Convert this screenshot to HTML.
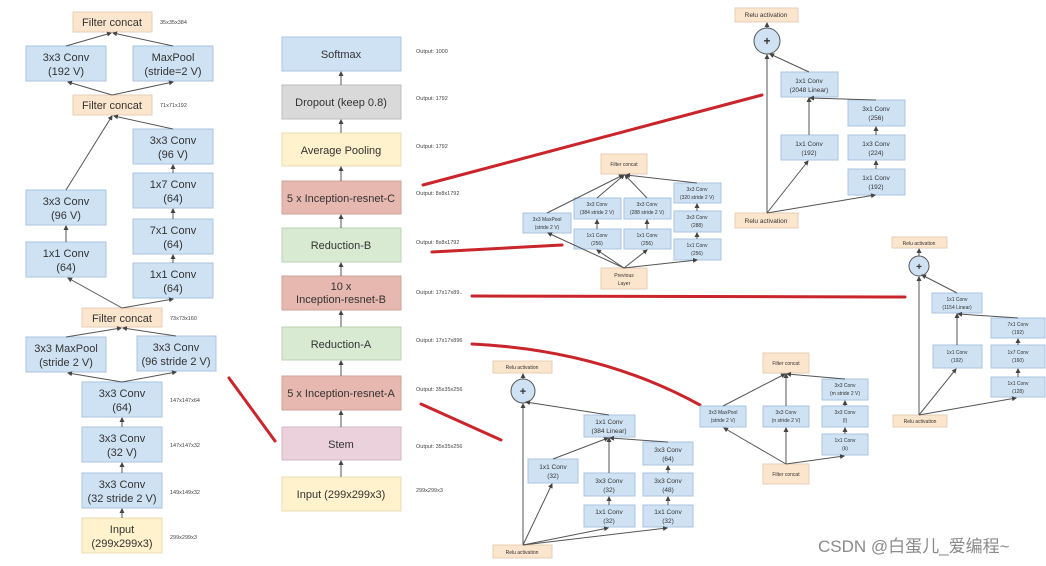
<!DOCTYPE html>
<html><head><meta charset="utf-8"><style>
html,body{margin:0;padding:0;background:#fff;}
svg{display:block;font-family:"Liberation Sans",Arial,sans-serif;}
.b{fill:#cfe2f3;stroke:#a9c4e0;stroke-width:1}
.o{fill:#fce5cd;stroke:#e6cfb5;stroke-width:1}
.y{fill:#fff2cc;stroke:#e8dcb5;stroke-width:1}
.g{fill:#d9d9d9;stroke:#bdbdbd;stroke-width:1}
.r{fill:#e6b8af;stroke:#cfa39a;stroke-width:1}
.gr{fill:#d9ead3;stroke:#bcd3b4;stroke-width:1}
.p{fill:#ead1dc;stroke:#d2b8c4;stroke-width:1}
text{fill:#333;text-anchor:middle}
.t{font-size:11px}
.s{font-size:6.5px}
.xs{font-size:5px}
.lb{font-size:5.5px;text-anchor:start;fill:#444}
.ln{stroke:#555;stroke-width:1;fill:none;marker-end:url(#a)}
.red{stroke:#c9252b;stroke-width:3;fill:none;stroke-linecap:round}
</style></head><body>
<svg width="1046" height="566" viewBox="0 0 1046 566" xmlns="http://www.w3.org/2000/svg">
<defs><marker id="a" markerWidth="5" markerHeight="5" refX="4" refY="2.5" orient="auto"><path d="M0,0 L5,2.5 L0,5z" fill="#444"/></marker></defs>

<!-- LEFT STEM -->
<rect class="o" x="73" y="12" width="79" height="20"/><text class="t" x="112" y="26">Filter concat</text>
<text class="lb" x="160" y="24">35x35x384</text>
<rect class="b" x="26" y="46" width="80" height="35"/><text class="t" x="66" y="61">3x3 Conv</text><text class="t" x="66" y="75">(192 V)</text>
<rect class="b" x="133" y="46" width="80" height="35"/><text class="t" x="173" y="61">MaxPool</text><text class="t" x="173" y="75">(stride=2 V)</text>
<rect class="o" x="73" y="95" width="79" height="20"/><text class="t" x="112" y="109">Filter concat</text>
<text class="lb" x="160" y="107">71x71x192</text>
<rect class="b" x="133" y="129" width="80" height="35"/><text class="t" x="173" y="144">3x3 Conv</text><text class="t" x="173" y="158">(96 V)</text>
<rect class="b" x="133" y="173" width="80" height="35"/><text class="t" x="173" y="188">1x7 Conv</text><text class="t" x="173" y="202">(64)</text>
<rect class="b" x="133" y="219" width="80" height="35"/><text class="t" x="173" y="234">7x1 Conv</text><text class="t" x="173" y="248">(64)</text>
<rect class="b" x="133" y="263" width="80" height="35"/><text class="t" x="173" y="278">1x1 Conv</text><text class="t" x="173" y="292">(64)</text>
<rect class="b" x="26" y="190" width="80" height="35"/><text class="t" x="66" y="205">3x3 Conv</text><text class="t" x="66" y="219">(96 V)</text>
<rect class="b" x="26" y="242" width="80" height="35"/><text class="t" x="66" y="257">1x1 Conv</text><text class="t" x="66" y="271">(64)</text>
<rect class="o" x="82" y="308" width="80" height="19"/><text class="t" x="122" y="322">Filter concat</text>
<text class="lb" x="170" y="320">73x73x160</text>
<rect class="b" x="26" y="337" width="80" height="35"/><text class="t" x="66" y="352">3x3 MaxPool</text><text class="t" x="66" y="366">(stride 2 V)</text>
<rect class="b" x="137" y="336" width="79" height="35"/><text class="t" x="176" y="351">3x3 Conv</text><text class="t" x="176" y="365">(96 stride 2 V)</text>
<rect class="b" x="82" y="382" width="80" height="35"/><text class="t" x="122" y="397">3x3 Conv</text><text class="t" x="122" y="411">(64)</text>
<text class="lb" x="170" y="402">147x147x64</text>
<rect class="b" x="82" y="427" width="80" height="35"/><text class="t" x="122" y="442">3x3 Conv</text><text class="t" x="122" y="456">(32 V)</text>
<text class="lb" x="170" y="447">147x147x32</text>
<rect class="b" x="82" y="473" width="80" height="35"/><text class="t" x="122" y="488">3x3 Conv</text><text class="t" x="122" y="502">(32 stride 2 V)</text>
<text class="lb" x="170" y="494">149x149x32</text>
<rect class="y" x="82" y="518" width="80" height="35"/><text class="t" x="122" y="533">Input</text><text class="t" x="122" y="547">(299x299x3)</text>
<text class="lb" x="170" y="539">299x299x3</text>
<!-- left arrows -->
<path class="ln" d="M122,518 V509"/><path class="ln" d="M122,473 V463"/><path class="ln" d="M122,427 V418"/>
<path class="ln" d="M122,382 L68,373"/><path class="ln" d="M122,382 L176,372"/>
<path class="ln" d="M66,337 L121,328"/><path class="ln" d="M176,336 L123,328"/>
<path class="ln" d="M122,308 L68,278"/><path class="ln" d="M122,308 L173,299"/>
<path class="ln" d="M66,242 V226"/><path class="ln" d="M173,263 V255"/><path class="ln" d="M173,219 V209"/><path class="ln" d="M173,173 V165"/>
<path class="ln" d="M66,190 L112,116"/><path class="ln" d="M173,129 L114,116"/>
<path class="ln" d="M112,95 L68,82"/><path class="ln" d="M112,95 L173,82"/>
<path class="ln" d="M66,46 L111,33"/><path class="ln" d="M173,46 L113,33"/>

<!-- MIDDLE -->
<rect class="b" x="282" y="37" width="119" height="34"/><text class="t" x="341" y="58">Softmax</text>
<rect class="g" x="282" y="85" width="119" height="34"/><text class="t" x="341" y="106">Dropout (keep 0.8)</text>
<rect class="y" x="282" y="133" width="119" height="33"/><text class="t" x="341" y="154">Average Pooling</text>
<rect class="r" x="282" y="181" width="119" height="33"/><text class="t" x="341" y="202">5 x Inception-resnet-C</text>
<rect class="gr" x="282" y="228" width="119" height="34"/><text class="t" x="341" y="249">Reduction-B</text>
<rect class="r" x="282" y="276" width="119" height="34"/><text class="t" x="341" y="290">10 x</text><text class="t" x="341" y="303">Inception-resnet-B</text>
<rect class="gr" x="282" y="327" width="119" height="33"/><text class="t" x="341" y="348">Reduction-A</text>
<rect class="r" x="282" y="376" width="119" height="34"/><text class="t" x="341" y="397">5 x Inception-resnet-A</text>
<rect class="p" x="282" y="427" width="119" height="33"/><text class="t" x="341" y="448">Stem</text>
<rect class="y" x="282" y="477" width="119" height="34"/><text class="t" x="341" y="498">Input (299x299x3)</text>
<path class="ln" d="M341,477 V461"/><path class="ln" d="M341,427 V411"/><path class="ln" d="M341,376 V361"/><path class="ln" d="M341,327 V311"/><path class="ln" d="M341,276 V263"/><path class="ln" d="M341,228 V215"/><path class="ln" d="M341,181 V167"/><path class="ln" d="M341,133 V120"/><path class="ln" d="M341,85 V72"/>
<text class="lb" x="416" y="53">Output: 1000</text>
<text class="lb" x="416" y="100">Output: 1792</text>
<text class="lb" x="416" y="148">Output: 1792</text>
<text class="lb" x="416" y="195">Output: 8x8x1792</text>
<text class="lb" x="416" y="244">Output: 8x8x1792</text>
<text class="lb" x="416" y="294">Output: 17x17x89..</text>
<text class="lb" x="416" y="342">Output: 17x17x896</text>
<text class="lb" x="416" y="391">Output: 35x35x256</text>
<text class="lb" x="416" y="448">Output: 35x35x256</text>
<text class="lb" x="416" y="492">299x299x3</text>

<!-- RED LINES -->
<path class="red" d="M229,378 L275,441"/>
<path class="red" d="M423,185 L762,95"/>
<path class="red" d="M432,252 L562,245"/>
<path class="red" d="M472,296 L905,297"/>
<path class="red" d="M472,344 Q600,350 700,405"/>
<path class="red" d="M421,404 L501,440"/>

<!-- REDUCTION-B -->
<rect class="o" x="601" y="154" width="46" height="20"/><text class="xs" x="624" y="166">Filter concat</text>
<rect class="b" x="523" y="213" width="48" height="20"/><text class="xs" x="547" y="221">3x3 MaxPool</text><text class="xs" x="547" y="229">(stride 2 V)</text>
<rect class="b" x="574" y="198" width="47" height="21"/><text class="xs" x="597" y="206">3x3 Conv</text><text class="xs" x="597" y="214">(384 stride 2 V)</text>
<rect class="b" x="574" y="229" width="47" height="20"/><text class="xs" x="597" y="237">1x1 Conv</text><text class="xs" x="597" y="245">(256)</text>
<rect class="b" x="624" y="198" width="47" height="21"/><text class="xs" x="647" y="206">3x3 Conv</text><text class="xs" x="647" y="214">(288 stride 2 V)</text>
<rect class="b" x="624" y="229" width="47" height="20"/><text class="xs" x="647" y="237">1x1 Conv</text><text class="xs" x="647" y="245">(256)</text>
<rect class="b" x="674" y="183" width="47" height="20"/><text class="xs" x="697" y="191">3x3 Conv</text><text class="xs" x="697" y="199">(320 stride 2 V)</text>
<rect class="b" x="674" y="211" width="47" height="21"/><text class="xs" x="697" y="219">3x3 Conv</text><text class="xs" x="697" y="227">(288)</text>
<rect class="b" x="674" y="239" width="47" height="21"/><text class="xs" x="697" y="247">1x1 Conv</text><text class="xs" x="697" y="255">(256)</text>
<rect class="o" x="601" y="268" width="46" height="21"/><text class="xs" x="624" y="277">Previous</text><text class="xs" x="624" y="285">Layer</text>
<path class="ln" d="M624,268 L548,233"/><path class="ln" d="M624,268 L597,250"/><path class="ln" d="M624,268 L647,250"/><path class="ln" d="M624,268 L697,260"/>
<path class="ln" d="M597,229 V220"/><path class="ln" d="M647,229 V220"/><path class="ln" d="M697,239 V233"/><path class="ln" d="M697,211 V204"/>
<path class="ln" d="M547,213 L623,175"/><path class="ln" d="M597,198 L624,175"/><path class="ln" d="M647,198 L625,175"/><path class="ln" d="M697,183 L626,175"/>

<!-- INCEPTION-C -->
<rect class="o" x="735" y="8" width="63" height="14"/><text class="s" x="766" y="17">Relu activation</text>
<circle cx="767" cy="41" r="13" fill="#cfe2f3" stroke="#555"/><text x="767" y="45" style="font-size:12px;font-weight:bold">+</text>
<path class="ln" d="M767,28 V23"/>
<rect class="b" x="781" y="72" width="57" height="25"/><text class="s" x="809" y="83">1x1 Conv</text><text class="s" x="809" y="92">(2048 Linear)</text>
<rect class="b" x="848" y="100" width="57" height="26"/><text class="s" x="876" y="111">3x1 Conv</text><text class="s" x="876" y="120">(256)</text>
<rect class="b" x="781" y="135" width="57" height="25"/><text class="s" x="809" y="146">1x1 Conv</text><text class="s" x="809" y="155">(192)</text>
<rect class="b" x="848" y="135" width="57" height="25"/><text class="s" x="876" y="146">1x3 Conv</text><text class="s" x="876" y="155">(224)</text>
<rect class="b" x="848" y="169" width="57" height="26"/><text class="s" x="876" y="180">1x1 Conv</text><text class="s" x="876" y="189">(192)</text>
<rect class="o" x="735" y="213" width="63" height="15"/><text class="s" x="766" y="223">Relu activation</text>
<path class="ln" d="M767,213 V55"/><path class="ln" d="M767,213 L808,161"/><path class="ln" d="M767,213 L875,195"/>
<path class="ln" d="M876,169 V161"/><path class="ln" d="M876,135 V127"/><path class="ln" d="M809,135 V98"/><path class="ln" d="M876,100 L810,98"/><path class="ln" d="M809,72 L770,54"/>

<!-- INCEPTION-B -->
<rect class="o" x="892" y="237" width="55" height="11"/><text class="xs" x="919" y="245">Relu activation</text>
<circle cx="919" cy="266" r="10" fill="#cfe2f3" stroke="#555"/><text x="919" y="270" style="font-size:10px;font-weight:bold">+</text>
<path class="ln" d="M919,256 V249"/>
<rect class="b" x="932" y="293" width="50" height="20"/><text class="xs" x="957" y="301">1x1 Conv</text><text class="xs" x="957" y="309">(1154 Linear)</text>
<rect class="b" x="991" y="318" width="54" height="20"/><text class="xs" x="1018" y="326">7x1 Conv</text><text class="xs" x="1018" y="334">(192)</text>
<rect class="b" x="933" y="345" width="49" height="23"/><text class="xs" x="957" y="354">1x1 Conv</text><text class="xs" x="957" y="362">(192)</text>
<rect class="b" x="991" y="345" width="54" height="23"/><text class="xs" x="1018" y="354">1x7 Conv</text><text class="xs" x="1018" y="362">(160)</text>
<rect class="b" x="991" y="377" width="54" height="20"/><text class="xs" x="1018" y="385">1x1 Conv</text><text class="xs" x="1018" y="393">(128)</text>
<rect class="o" x="893" y="415" width="54" height="12"/><text class="xs" x="920" y="423">Relu activation</text>
<path class="ln" d="M919,415 V277"/><path class="ln" d="M919,415 L956,369"/><path class="ln" d="M919,415 L1016,398"/>
<path class="ln" d="M1018,377 V369"/><path class="ln" d="M1018,345 V339"/><path class="ln" d="M957,345 V314"/><path class="ln" d="M1018,318 L958,314"/><path class="ln" d="M957,293 L922,275"/>

<!-- INCEPTION-A -->
<rect class="o" x="493" y="361" width="59" height="12"/><text class="xs" x="522" y="369">Relu activation</text>
<circle cx="523" cy="391" r="12" fill="#cfe2f3" stroke="#555"/><text x="523" y="395" style="font-size:11px;font-weight:bold">+</text>
<path class="ln" d="M523,379 V374"/>
<rect class="b" x="584" y="415" width="51" height="22"/><text class="s" x="609" y="424">1x1 Conv</text><text class="s" x="609" y="433">(384 Linear)</text>
<rect class="b" x="528" y="459" width="50" height="24"/><text class="s" x="553" y="469">1x1 Conv</text><text class="s" x="553" y="478">(32)</text>
<rect class="b" x="584" y="473" width="51" height="23"/><text class="s" x="609" y="483">3x3 Conv</text><text class="s" x="609" y="492">(32)</text>
<rect class="b" x="584" y="505" width="51" height="22"/><text class="s" x="609" y="514">1x1 Conv</text><text class="s" x="609" y="523">(32)</text>
<rect class="b" x="643" y="442" width="50" height="23"/><text class="s" x="668" y="452">3x3 Conv</text><text class="s" x="668" y="461">(64)</text>
<rect class="b" x="643" y="473" width="50" height="23"/><text class="s" x="668" y="483">3x3 Conv</text><text class="s" x="668" y="492">(48)</text>
<rect class="b" x="643" y="505" width="50" height="22"/><text class="s" x="668" y="514">1x1 Conv</text><text class="s" x="668" y="523">(32)</text>
<rect class="o" x="493" y="545" width="59" height="13"/><text class="xs" x="522" y="554">Relu activation</text>
<path class="ln" d="M523,545 V404"/><path class="ln" d="M523,545 L552,484"/><path class="ln" d="M523,545 L608,528"/><path class="ln" d="M523,545 L667,528"/>
<path class="ln" d="M609,505 V497"/><path class="ln" d="M668,505 V497"/><path class="ln" d="M668,473 V466"/>
<path class="ln" d="M553,459 L608,438"/><path class="ln" d="M609,473 V438"/><path class="ln" d="M668,442 L610,438"/><path class="ln" d="M609,415 L526,402"/>

<!-- REDUCTION-A -->
<rect class="o" x="763" y="353" width="46" height="20"/><text class="xs" x="786" y="365">Filter concat</text>
<rect class="b" x="700" y="406" width="46" height="21"/><text class="xs" x="723" y="414">3x3 MaxPool</text><text class="xs" x="723" y="422">(stride 2 V)</text>
<rect class="b" x="763" y="406" width="46" height="21"/><text class="xs" x="786" y="414">3x3 Conv</text><text class="xs" x="786" y="422">(n stride 2 V)</text>
<rect class="b" x="822" y="379" width="46" height="21"/><text class="xs" x="845" y="387">3x3 Conv</text><text class="xs" x="845" y="395">(m stride 2 V)</text>
<rect class="b" x="822" y="406" width="46" height="21"/><text class="xs" x="845" y="414">3x3 Conv</text><text class="xs" x="845" y="422">(l)</text>
<rect class="b" x="822" y="434" width="46" height="21"/><text class="xs" x="845" y="442">1x1 Conv</text><text class="xs" x="845" y="450">(k)</text>
<rect class="o" x="763" y="464" width="46" height="20"/><text class="xs" x="786" y="476">Filter concat</text>
<path class="ln" d="M786,464 L724,428"/><path class="ln" d="M786,464 V428"/><path class="ln" d="M786,464 L844,456"/>
<path class="ln" d="M845,434 V428"/><path class="ln" d="M845,406 V401"/>
<path class="ln" d="M723,406 L785,374"/><path class="ln" d="M786,406 V374"/><path class="ln" d="M845,379 L787,374"/>

<text x="818" y="552" style="font-family:'Liberation Sans','Noto Sans CJK SC',sans-serif;font-size:17px;fill:#8a8a8a;text-anchor:start">CSDN @白蛋儿_爱编程~</text>
</svg>
</body></html>
